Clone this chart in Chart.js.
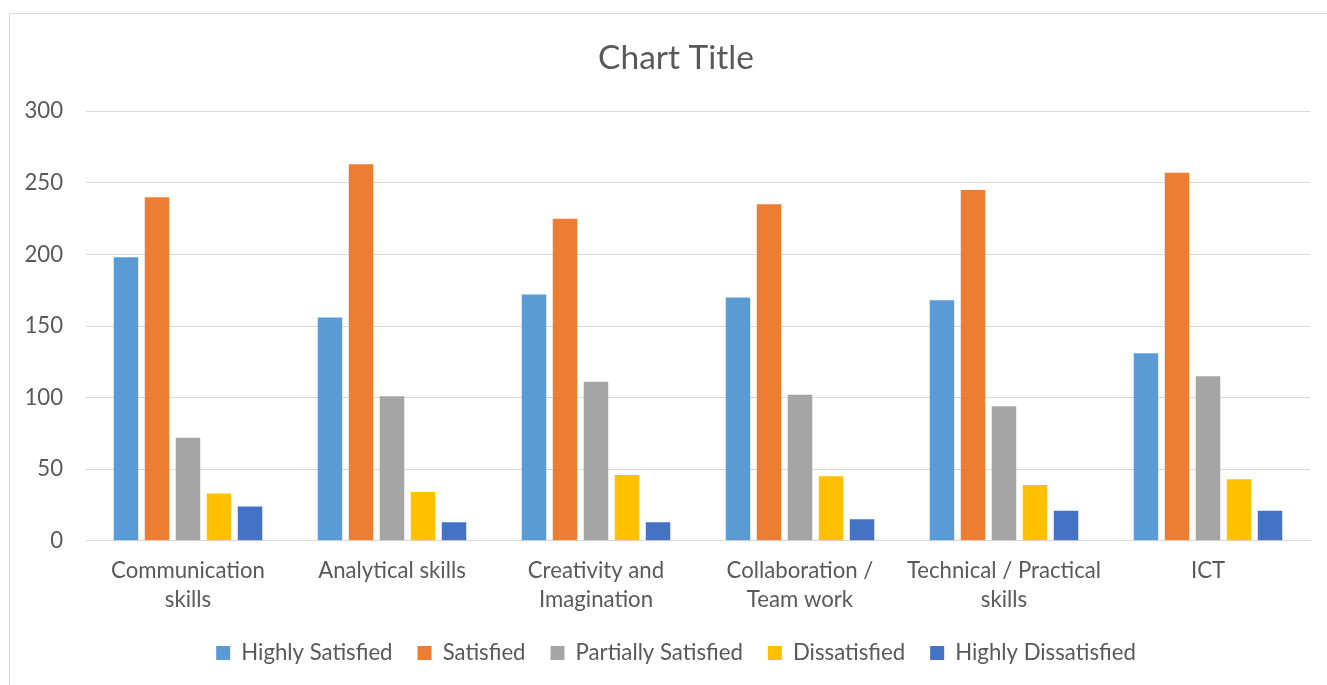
<!DOCTYPE html>
<html><head><meta charset="utf-8">
<script src="https://cdn.jsdelivr.net/npm/chart.js@4.4.0/dist/chart.umd.min.js"></script>
<style>
html,body{margin:0;padding:0;background:#fff;overflow:hidden}
#wrap{position:absolute;left:0;top:0;width:1327px;height:685px}
#frame{position:absolute;left:9px;top:13px;width:1340px;height:700px;border:1px solid #d9d9d9;box-sizing:border-box;pointer-events:none}
</style></head><body>
<div id="wrap"><canvas id="c" width="1327" height="685"></canvas></div>
<div id="frame"></div>
<script>
const categories = [['Communication','skills'], ['Analytical skills'], ['Creativity and','Imagination'], ['Collaboration /','Team work'], ['Technical / Practical','skills'], ['ICT']];
const seriesNames = ['Highly Satisfied','Satisfied','Partially Satisfied','Dissatisfied','Highly Dissatisfied'];
const highlySatisfied    = [198, 156, 172, 170, 168, 131];
const satisfied          = [240, 263, 225, 235, 245, 257];
const partiallySatisfied = [72, 101, 111, 102, 94, 115];
const dissatisfied       = [33, 34, 46, 45, 39, 43];
const highlyDissatisfied = [24, 13, 13, 15, 21, 21];
const yTicks = [0, 50, 100, 150, 200, 250, 300];
const colors = ['#5B9BD5','#ED7D31','#A5A5A5','#FFC000','#4472C4'];

const FONT = 'Lato, Carlito, Calibri, "Open Sans", sans-serif';
function fitSize(text, target){
  const c = document.createElement('canvas').getContext('2d');
  c.font = '100px ' + FONT;
  return 100 * target / c.measureText(text).width;
}
const tickSize = fitSize('Communication', 154);
const titleSize = fitSize('Chart Title', 156);
const TXT = '#595959';
const GRID = '#D9D9D9';
const PAD_LEFT = 42;

const values = [highlySatisfied, satisfied, partiallySatisfied, dissatisfied, highlyDissatisfied];

const unclipLabels = {
  id: 'unclipLabels',
  afterLayout(chart) {
    chart.scales.x.bottom += 12;
    chart.scales.y.left -= PAD_LEFT;
  }
};

new Chart(document.getElementById('c'), {
  type: 'bar',
  data: {
    labels: categories,
    datasets: seriesNames.map((n, i) => ({
      label: n,
      data: values[i],
      backgroundColor: colors[i],
      borderWidth: 0,
      categoryPercentage: 0.76,
      barPercentage: 0.79
    }))
  },
  plugins: [unclipLabels],
  options: {
    responsive: false,
    animation: false,
    devicePixelRatio: 1,
    layout: { padding: { left: PAD_LEFT, right: 17, top: 0, bottom: 11 } },
    plugins: {
      tooltip: { enabled: false },
      title: {
        display: true,
        text: 'Chart Title',
        color: TXT,
        font: { family: FONT, size: titleSize, weight: 'normal', lineHeight: 1.2 },
        padding: { top: 38, bottom: 33 }
      },
      legend: {
        position: 'bottom',
        labels: {
          color: TXT,
          font: { family: FONT, size: tickSize },
          boxWidth: 14,
          boxHeight: 14,
          padding: 25
        }
      }
    },
    scales: {
      x: {
        grid: { display: false, drawTicks: false },
        border: { display: true, color: GRID, width: 1 },
        ticks: {
          color: TXT,
          padding: 16,
          maxRotation: 0,
          autoSkip: false,
          font: { family: FONT, size: tickSize, lineHeight: 29 / tickSize }
        },
        afterFit: s => { s.height = 76; }
      },
      y: {
        min: 0, max: 300,
        afterBuildTicks: s => { s.ticks = yTicks.map(v => ({ value: v })); },
        grid: { color: GRID, lineWidth: 1, drawTicks: false },
        border: { display: false },
        ticks: {
          color: TXT,
          padding: 23,
          font: { family: FONT, size: tickSize }
        },
        afterFit: s => { s.width = 86 - PAD_LEFT; }
      }
    }
  }
});
</script>
</body></html>
